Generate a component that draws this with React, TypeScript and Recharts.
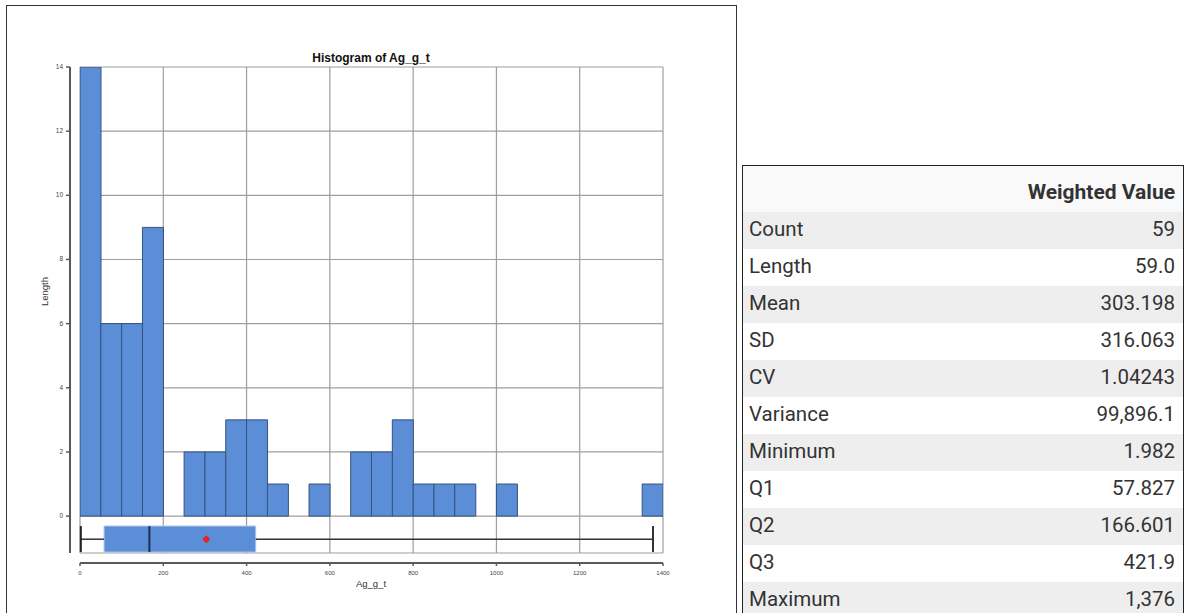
import {
    Bar, CartesianGrid, ComposedChart, ReferenceArea, ReferenceDot, ReferenceLine, XAxis, YAxis,
} from 'recharts';

// histogram bins (lower edge, width 50) and counts
const binStarts = [0, 50, 100, 150, 200, 250, 300, 350, 400, 450, 500, 550, 600, 650,
    700, 750, 800, 850, 900, 950, 1000, 1050, 1100, 1150, 1200, 1250, 1300, 1350];
const binCounts = [14, 6, 6, 9, 0, 2, 2, 3, 3, 1, 0, 1, 0, 2,
    2, 3, 1, 1, 1, 0, 1, 0, 0, 0, 0, 0, 0, 1];
const BIN_WIDTH = 50;

const xTicks = [0, 200, 400, 600, 800, 1000, 1200, 1400];
const yTicks = [0, 2, 4, 6, 8, 10, 12, 14];

// box plot summary
const boxMin = 1.982;
const boxQ1 = 57.827;
const boxQ2 = 166.601;
const boxQ3 = 421.9;
const boxMax = 1376;
const boxMean = 303.198;

// summary table
const statNames = ['Count', 'Length', 'Mean', 'SD', 'CV', 'Variance', 'Minimum', 'Q1', 'Q2', 'Q3', 'Maximum'];
const statValues = ['59', '59.0', '303.198', '316.063', '1.04243', '99,896.1', '1.982', '57.827', '166.601', '421.9', '1,376'];

// layout in y-units below zero (box plot band and offset axes)
const Y_BOTTOM = -1.15;
const BOX_TOP = -0.31;
const BOX_BOTTOM = -1.12;
const BOX_MID = -0.72;
const X_AXIS_Y = -1.46;
const Y_AXIS_X = -24;

const BLUE = '#5b8ed6';
const GRID = '#9e9e9e';
const AXIS = '#5a5a5a';
const FONT = '"Liberation Sans", Arial, sans-serif';

const bins = binStarts.map((start, i) => ({ x: start + BIN_WIDTH / 2, count: binCounts[i] }));

function XTick(props: any) {
    const { x, y, payload } = props;
    return (
        <g>
            <line x1={x} x2={x} y1={y + 10} y2={y + 13} stroke={AXIS} strokeWidth={1.5} />
            <text x={x} y={y + 22} textAnchor="middle" fontSize={6} fill="#444" fontFamily={FONT}>
                {payload.value}
            </text>
        </g>
    );
}

function YTick(props: any) {
    const { x, y, payload } = props;
    return (
        <g>
            <line x1={x - 14} x2={x - 10} y1={y} y2={y} stroke={AXIS} strokeWidth={1.5} />
            <text x={x - 17} y={y + 2} textAnchor="end" fontSize={6.5} fill="#444" fontFamily={FONT}>
                {payload.value}
            </text>
        </g>
    );
}

function Diamond(props: any) {
    const { cx, cy } = props;
    const r = 4;
    return (
        <polygon
            points={`${cx},${cy - r} ${cx + r},${cy} ${cx},${cy + r} ${cx - r},${cy}`}
            fill="#e82020"
        />
    );
}

function Histogram() {
    return (
        <ComposedChart
            width={737} height={613} data={bins}
            margin={{ top: 67, right: 74, bottom: 30, left: 40 }}
            barCategoryGap={0} barGap={0}
        >
            <XAxis
                dataKey="x" type="number" domain={[0, 1400]} ticks={xTicks}
                allowDataOverflow axisLine={false} tickLine={false}
                tickSize={0} tickMargin={0} height={30} tick={<XTick />}
            />
            <YAxis
                type="number" domain={[Y_BOTTOM, 14]} ticks={yTicks}
                allowDataOverflow axisLine={false} tickLine={false}
                tickSize={0} tickMargin={0} width={40} tick={<YTick />}
            />
            <Bar dataKey="count" fill={BLUE} stroke="#34527f" strokeWidth={1} isAnimationActive={false} />
            <CartesianGrid stroke={GRID} strokeWidth={1.2} fill="none" />
            <ReferenceLine
                segment={[{ x: 0, y: X_AXIS_Y }, { x: 1400, y: X_AXIS_Y }]}
                stroke={AXIS} strokeWidth={2} ifOverflow="visible"
            />
            <ReferenceLine
                segment={[{ x: Y_AXIS_X, y: Y_BOTTOM }, { x: Y_AXIS_X, y: 14 }]}
                stroke={AXIS} strokeWidth={2} ifOverflow="visible"
            />
            <ReferenceLine
                segment={[{ x: boxMin, y: BOX_MID }, { x: boxQ1, y: BOX_MID }]}
                stroke="#333" strokeWidth={1.5}
            />
            <ReferenceLine
                segment={[{ x: boxQ3, y: BOX_MID }, { x: boxMax, y: BOX_MID }]}
                stroke="#333" strokeWidth={1.5}
            />
            <ReferenceLine
                segment={[{ x: boxMin, y: BOX_TOP }, { x: boxMin, y: BOX_BOTTOM }]}
                stroke="#222" strokeWidth={2}
            />
            <ReferenceLine
                segment={[{ x: boxMax, y: BOX_TOP }, { x: boxMax, y: BOX_BOTTOM }]}
                stroke="#333" strokeWidth={2}
            />
            <ReferenceArea
                x1={boxQ1} x2={boxQ3} y1={BOX_BOTTOM} y2={BOX_TOP}
                fill={BLUE} fillOpacity={1} stroke="#a9c4ec" strokeWidth={1}
            />
            <ReferenceLine
                segment={[{ x: boxQ2, y: BOX_TOP }, { x: boxQ2, y: BOX_BOTTOM }]}
                stroke="#1e3050" strokeWidth={2}
            />
            <ReferenceDot x={boxMean} y={BOX_MID} shape={<Diamond />} />
        </ComposedChart>
    );
}

export default function App() {
    return (
        <div style={{ position: 'fixed', left: 0, top: 0, width: 1186, height: 613, background: '#fff', overflow: 'hidden' }}>
            <div style={{
                position: 'absolute', left: 6, top: 5, width: 731, height: 700,
                border: '1px solid #333', boxSizing: 'border-box',
            }} />
            <div style={{ position: 'absolute', left: 0, top: 0 }}>
                <Histogram />
            </div>
            <div style={{
                position: 'absolute', left: 251, top: 51, width: 240, textAlign: 'center',
                fontFamily: FONT, fontWeight: 'bold', fontSize: 12, color: '#111',
            }}>
                Histogram of Ag_g_t
            </div>
            <div style={{
                position: 'absolute', left: 321, top: 578, width: 100, textAlign: 'center',
                fontFamily: FONT, fontSize: 9.5, color: '#333',
            }}>
                Ag_g_t
            </div>
            <div style={{
                position: 'absolute', left: 44, top: 292, width: 0, height: 0,
            }}>
                <div style={{
                    position: 'absolute', left: -40, top: -6, width: 80, textAlign: 'center',
                    transform: 'rotate(-90deg)', fontFamily: FONT, fontSize: 9.5, color: '#333',
                }}>
                    Length
                </div>
            </div>
            <div style={{
                position: 'absolute', left: 742, top: 165, width: 442, height: 460,
                border: '1px solid #222', boxSizing: 'border-box', background: '#fff',
                fontFamily: 'Roboto, sans-serif', fontSize: 20.5, color: '#333',
            }}>
                <div style={{
                    height: 46, background: '#f9f9f9', display: 'flex', alignItems: 'center',
                    justifyContent: 'flex-end', paddingRight: 8, fontWeight: 'bold', paddingTop: 6,
                    boxSizing: 'border-box', fontSize: 21,
                }}>
                    Weighted Value
                </div>
                {statNames.map((name, i) => (
                    <div key={name} style={{
                        height: 37, display: 'flex', alignItems: 'center', justifyContent: 'space-between',
                        padding: '0 8px 4px 6px', boxSizing: 'border-box',
                        background: i % 2 === 0 ? '#eeeeee' : '#ffffff',
                    }}>
                        <span>{name}</span>
                        <span>{statValues[i]}</span>
                    </div>
                ))}
            </div>
        </div>
    );
}
